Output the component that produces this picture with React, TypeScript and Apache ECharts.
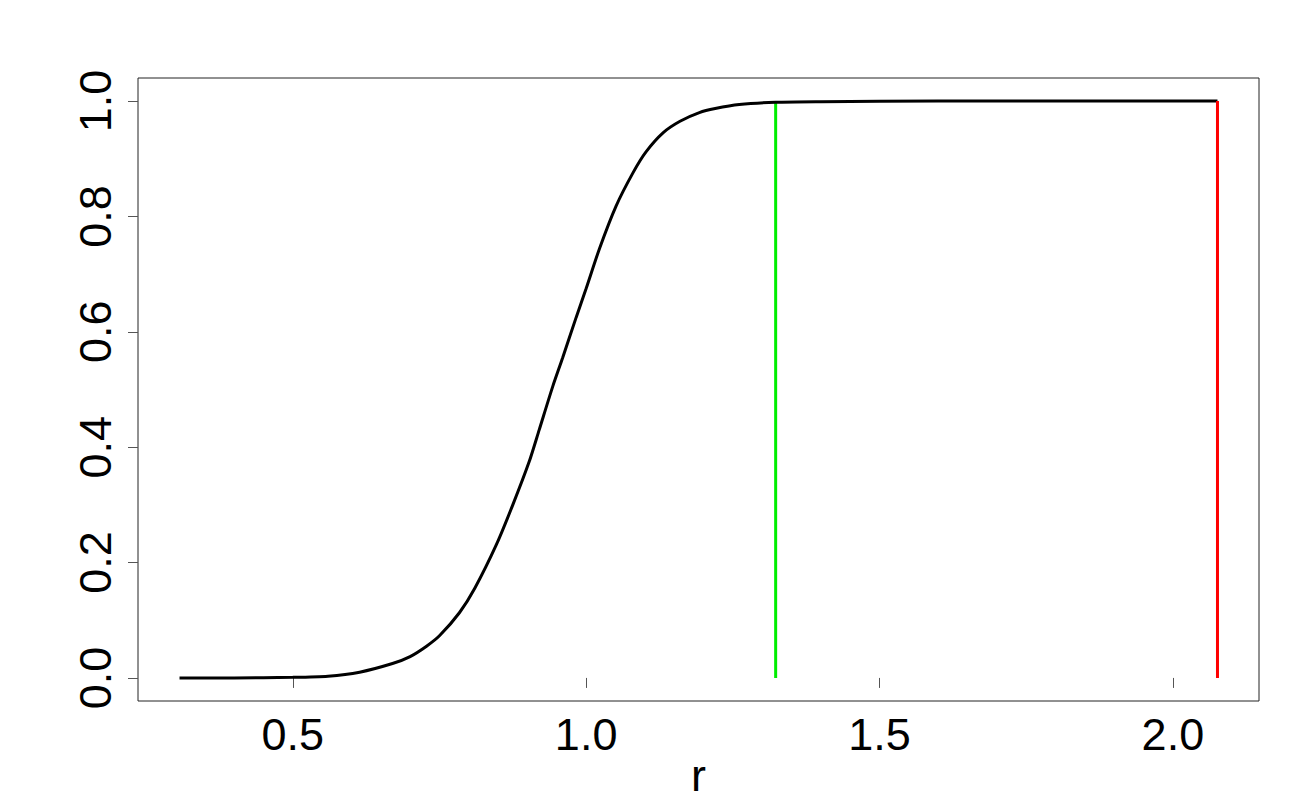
import React, { useEffect, useRef } from "react";
import * as echarts from "echarts";

// Curve (r, value)
const rValues = [
  0.307, 0.4, 0.5, 0.56, 0.614, 0.67, 0.7, 0.728, 0.75, 0.784, 0.81, 0.847,
  0.875, 0.903, 0.92, 0.943, 0.96, 0.983, 1.0, 1.023, 1.051, 1.08, 1.102,
  1.131, 1.16, 1.193, 1.22, 1.261, 1.323, 1.4, 1.6, 1.8, 2.076,
];
const cdfValues = [
  0.0, 0.0, 0.001, 0.003, 0.01, 0.025, 0.037, 0.055, 0.073, 0.113, 0.155,
  0.231, 0.3, 0.375, 0.43, 0.505, 0.555, 0.625, 0.675, 0.745, 0.818, 0.876,
  0.912, 0.945, 0.965, 0.98, 0.987, 0.994, 0.998, 0.999, 1.0, 1.0, 1.0,
];
const greenR = 1.323;
const redR = 2.076;
const xTicks = [0.5, 1.0, 1.5, 2.0];
const yTicks = [0.0, 0.2, 0.4, 0.6, 0.8, 1.0];
const xName = "r";

const FONT = "Liberation Sans, Arial, sans-serif";

export default function App() {
  const ref = useRef<HTMLDivElement>(null);
  useEffect(() => {
    document.body.style.margin = "0";
    if (!ref.current) return;
    const chart = echarts.init(ref.current, undefined, { renderer: "svg" });
    const xmin0 = Math.min(...rValues);
    const xmax0 = Math.max(...rValues, greenR, redR);
    const xr = xmax0 - xmin0;
    const curve = rValues.map((r, i) => [r, cdfValues[i]]);
    chart.setOption({
      animation: false,
      backgroundColor: "#ffffff",
      grid: {
        left: 138,
        right: 41,
        top: 78,
        bottom: 99,
        containLabel: false,
        outerBoundsMode: "none",
        show: true,
        borderColor: "#222",
        borderWidth: 1,
        backgroundColor: "transparent",
      },
      xAxis: {
        type: "value",
        min: xmin0 - 0.04 * xr,
        max: xmax0 + 0.04 * xr,
        name: xName,
        nameLocation: "middle",
        nameGap: 57,
        nameMoveOverlap: false,
        nameTextStyle: {
          fontFamily: FONT,
          fontSize: 45,
          lineHeight: 34,
          color: "#000",
        },
        axisLine: { show: false },
        splitLine: { show: false },
        axisTick: {
          show: true,
          customValues: xTicks,
          length: 10,
          lineStyle: { color: "#555", width: 1 },
        },
        axisLabel: {
          customValues: xTicks,
          formatter: (v: number) => v.toFixed(1),
          fontFamily: FONT,
          fontSize: 45,
          color: "#000",
          margin: 11,
        },
      },
      yAxis: {
        type: "value",
        min: -0.04,
        max: 1.04,
        axisLine: { show: false },
        splitLine: { show: false },
        axisTick: {
          show: true,
          customValues: yTicks,
          length: 10,
          lineStyle: { color: "#555", width: 1 },
        },
        axisLabel: {
          customValues: yTicks,
          formatter: (v: number) => v.toFixed(1),
          fontFamily: FONT,
          fontSize: 45,
          color: "#000",
          rotate: 90,
          margin: 20,
        },
      },
      series: [
        {
          type: "line",
          data: curve,
          showSymbol: false,
          smooth: 0.25,
          lineStyle: { color: "#000", width: 3 },
          z: 2,
        },
        {
          type: "line",
          data: [
            [greenR, 0],
            [greenR, 1],
          ],
          showSymbol: false,
          lineStyle: { color: "#00ee00", width: 3 },
          z: 1,
        },
        {
          type: "line",
          data: [
            [redR, 0],
            [redR, 1],
          ],
          showSymbol: false,
          lineStyle: { color: "#ff0000", width: 3 },
          z: 3,
        },
      ],
    });
    return () => chart.dispose();
  }, []);
  return <div ref={ref} style={{ width: 1300, height: 800 }} />;
}
